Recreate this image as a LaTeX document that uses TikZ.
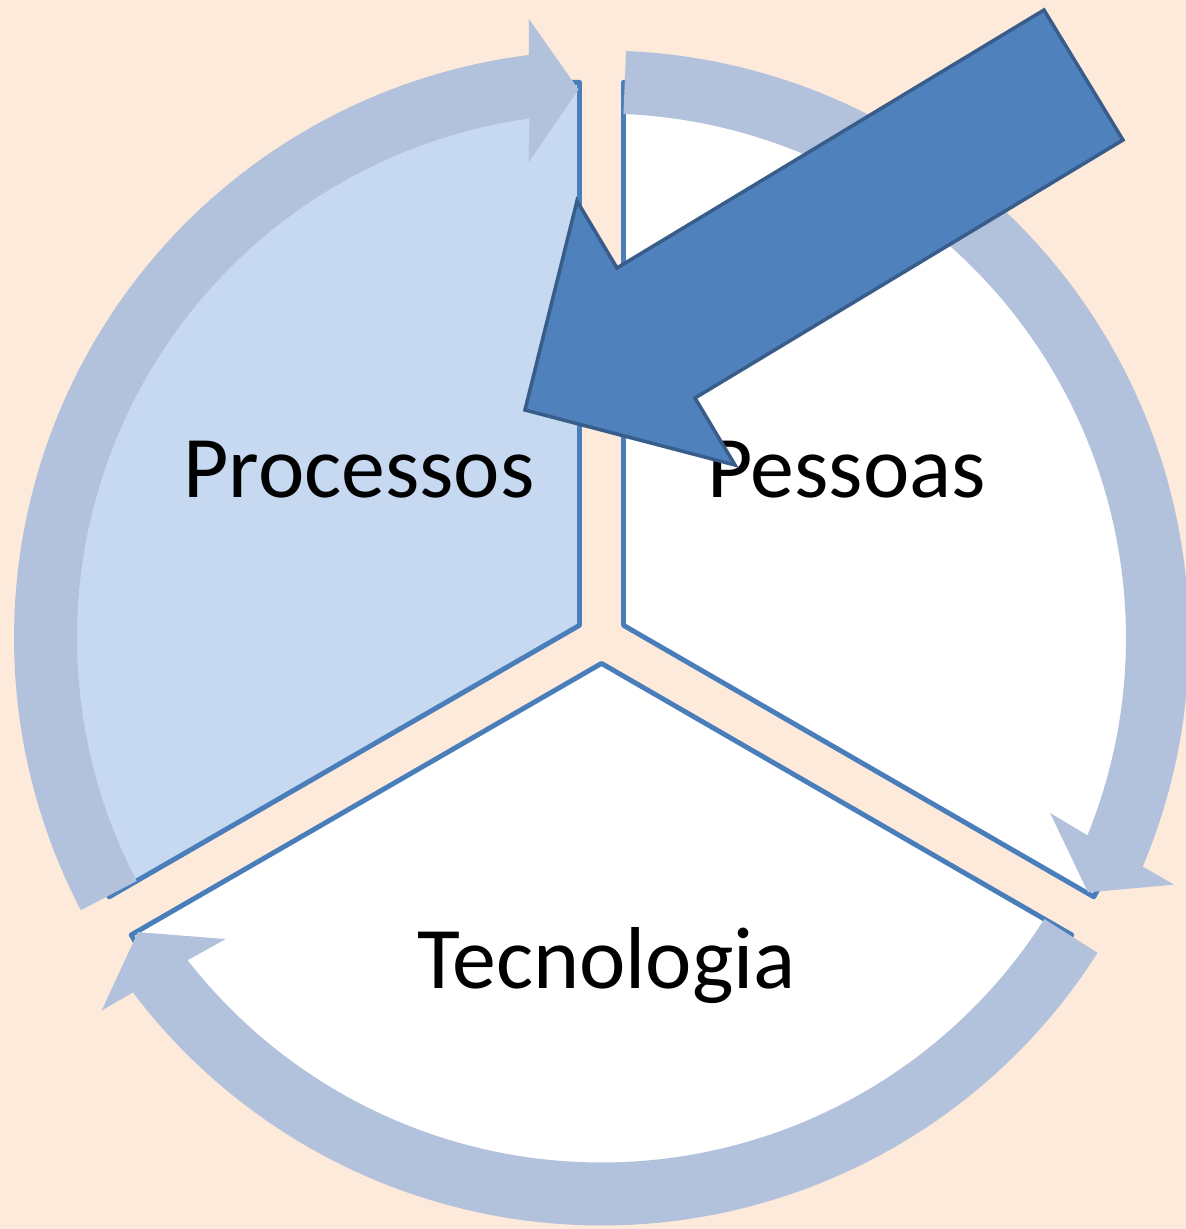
\documentclass[tikz,border=0pt]{standalone}
\usepackage{fontspec}
\setmainfont{Carlito}
\definecolor{peach}{HTML}{FDEADA}
\definecolor{ringblue}{HTML}{B3C2DC}
\definecolor{paleblue}{HTML}{C6D9F1}
\definecolor{edgeblue}{HTML}{4A7EBB}
\definecolor{bigblue}{HTML}{4F81BD}
\definecolor{bigedge}{HTML}{385D8A}
\begin{document}
\begin{tikzpicture}[
      seg/.style={draw=edgeblue, line width=2.8pt, line join=round},
      ring/.style={fill=ringblue},
      lbl/.style={anchor=base, font=\fontsize{50}{60}\selectfont},
      bigarrow/.style={fill=bigblue, draw=bigedge, line width=2pt, line join=miter}]
    \useasboundingbox (-12.03,-11.82) rectangle (11.69,12.76);
    \fill[peach] (-12.03,-11.82) rectangle (11.69,12.76);
    % segments (shifted pie pieces)
    \foreach \rot/\col in {0/paleblue, -120/white, -240/white} {
      \begin{scope}[rotate=\rot]
        \draw[seg, fill=\col] (150:0.508) -- ++(90:10.86)
          arc[start angle=90, end angle=210, radius=10.86] -- cycle;
      \end{scope}
    }
    \node[lbl] (proc) at (-4.85,2.82) {Processos};
    \node[lbl] (pess) at (4.90,2.82) {Pessoas};
    \node[lbl] (tec) at (0.10,-7.00) {Tecnologia};
    % circular arrows round each segment
    \foreach \rot in {0,-120,-240} {
      \begin{scope}[rotate=\rot]
        \fill[ring] (207.6:11.75) arc[start angle=207.6, end angle=97.1, radius=11.75]
          -- (96.7:12.47) -- (92.4:10.98) -- (98.7:9.63) -- (97.9:10.49)
          arc[start angle=97.9, end angle=207.6, radius=10.49] -- cycle;
      \end{scope}
    }
    % big arrow pointing at Processos
    \draw[bigarrow] (8.85,12.56) -- (10.43,9.96) -- (1.87,4.80) -- (2.67,3.46)
      -- (-1.53,4.56) -- (-0.49,8.74) -- (0.31,7.40) -- cycle;
\end{tikzpicture}
\end{document}
